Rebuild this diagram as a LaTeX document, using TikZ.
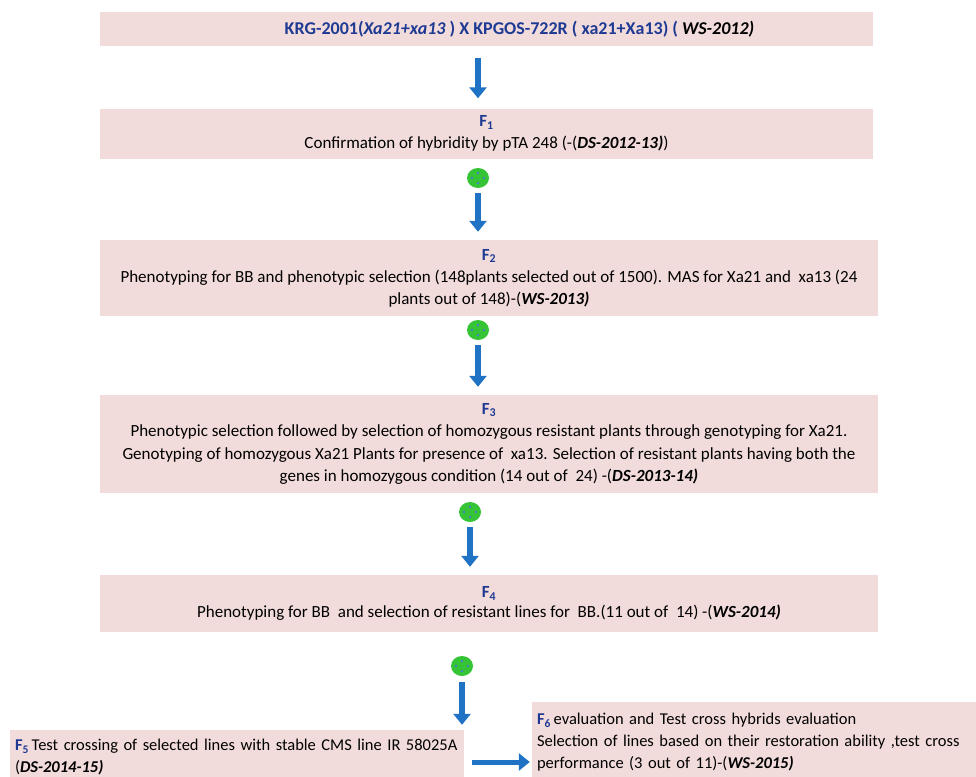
\documentclass[tikz,border=0pt]{standalone}
\usepackage{fontspec}
\setmainfont{Carlito}
\usetikzlibrary{arrows.meta,shapes.geometric,calc}
\definecolor{boxpink}{HTML}{F2DCDB}
\definecolor{arrblue}{HTML}{1F72C4}
\definecolor{dkblue}{HTML}{1F3A93}
\definecolor{grn}{HTML}{35C435}
\definecolor{dotblue}{HTML}{4A7FC8}
\newcommand{\Flab}[1]{\textcolor{dkblue}{\textbf{F\textsubscript{#1}}}}
\newcommand{\season}[1]{\textbf{\textit{#1}}}
\begin{document}
\begin{tikzpicture}[x=1pt,y=-1pt,
  stagebox/.style={fill=boxpink, inner sep=0pt, align=center, font=\fontsize{17}{22}\selectfont},
  sidebox/.style={fill=boxpink, inner sep=0pt, align=left, font=\fontsize{16.5}{22}\selectfont},
  blockarr/.style={draw=arrblue, line width=6pt, -{Triangle[width=17pt,length=11pt]}},
  greenball/.style={ellipse, fill=grn, minimum width=22pt, minimum height=20pt, inner sep=0pt},
  bluedot/.style={circle, fill=dotblue, minimum size=2.6pt, inner sep=0pt}]
\useasboundingbox[fill=white] (0,0) rectangle (976,776);

% top box
\node[stagebox, minimum width=773pt, minimum height=34pt, font=\fontsize{18}{22}\selectfont] (top) at (486.5,29.5)
  {\hspace*{66pt}\textcolor{dkblue}{\textbf{KRG-2001(\textit{Xa21+xa13} ) X KPGOS-722R ( xa21+Xa13) ( }}\textbf{\textit{WS-2012)}}};

% F1
\node[stagebox, minimum width=773pt, minimum height=50pt] (f1) at (486.5,133.5)
  {\Flab{1}\\Confirmation of hybridity by pTA 248 (-(\season{DS-2012-13)})};

% F2
\node[stagebox, minimum width=778pt, minimum height=76pt] (f2) at (489,278)
  {\Flab{2}\\Phenotyping for BB and phenotypic selection (148plants selected out of 1500). MAS for Xa21 and\ \ xa13 (24\\plants out of 148)-(\season{WS-2013)}};

% F3
\node[stagebox, minimum width=778pt, minimum height=98pt, font=\fontsize{17}{22.5}\selectfont] (f3) at (489,444)
  {\Flab{3}\\Phenotypic selection followed by selection of homozygous resistant plants through genotyping for Xa21.\\Genotyping of homozygous Xa21 Plants\ for presence of\ \ xa13. Selection of resistant plants having both the\\genes in homozygous\ condition (14 out of\ \ 24) -(\season{DS-2013-14)}};

% F4
\node[stagebox, minimum width=778pt, minimum height=57pt, font=\fontsize{17}{20}\selectfont] (f4) at (489,603.5)
  {\Flab{4}\\Phenotyping for BB\ \ and selection of resistant lines for\ \ BB.(11 out of\ \ 14) -(\season{WS-2014)}};

% F5
\node[sidebox, minimum width=454pt, minimum height=54pt, text width=444pt] (f5) at (237,757)
  {\Flab{5}\,Test crossing of selected lines with stable CMS line IR 58025A\\(\season{DS-2014-15)}};

% F6
\node[sidebox, minimum width=444pt, minimum height=80pt, text width=434pt] (f6) at (754,742)
  {\Flab{6}\,evaluation and Test cross hybrids evaluation\\Selection of lines based on their restoration ability ,test cross\\performance (3 out of 11)-(\season{WS-2015)}};

% green balls
\foreach \n/\x/\y in {g1/478/178, g2/478/330, g3/470/512, g4/462/666}{
  \node[greenball] (\n) at (\x,\y) {};
  \node[bluedot] at ($(\n)+(0,-5)$) {};
  \node[bluedot] at ($(\n)+(0,5)$) {};
  \node[bluedot] at ($(\n)+(-6,0)$) {};
  \node[bluedot] at ($(\n)+(6,0)$) {};
}

% arrows
\draw[blockarr, shorten <=11pt, shorten >=10pt] (top.south -| g1) -- (f1.north -| g1);
\draw[blockarr, shorten <=5pt, shorten >=8pt] (g1.south) -- (f2.north -| g1);
\draw[blockarr, shorten <=5pt, shorten >=8pt] (g2.south) -- (f3.north -| g2);
\draw[blockarr, shorten <=5pt, shorten >=8pt] (g3.south) -- (f4.north -| g3);
\draw[blockarr, shorten <=6pt, shorten >=5pt] (g4.south) -- (f5.north -| g4);
\coordinate (hy) at (0,762);
\draw[blockarr, line width=5pt, shorten <=8pt, shorten >=2pt] (f5.east |- hy) -- (f6.west |- hy);
\end{tikzpicture}
\end{document}
